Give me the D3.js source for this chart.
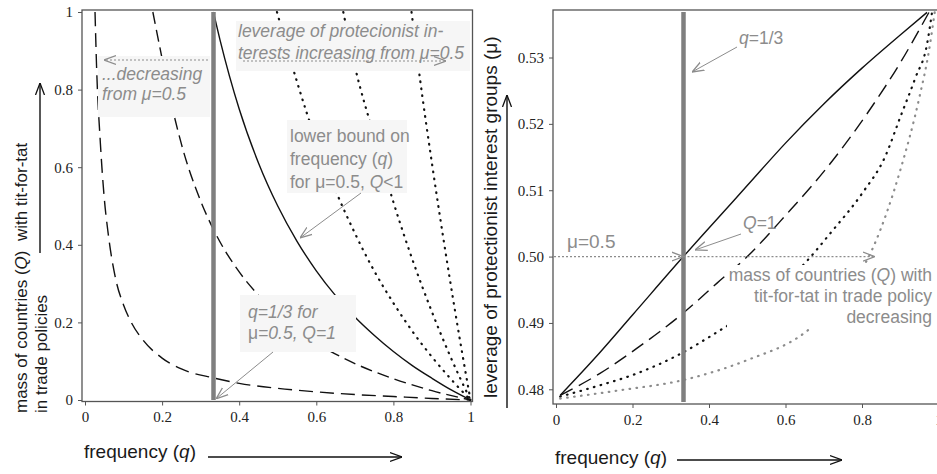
<!DOCTYPE html>
<html>
<head>
<meta charset="utf-8">
<script src="https://cdn.jsdelivr.net/npm/d3@7"></script>
<style>
  body { margin: 0; background: #fff; }
  svg { display: block; }
  .title { font-family: "Liberation Sans", Arial, sans-serif; font-size: 17px; fill: #1a1a1a; white-space: pre; }
  .note { font-family: "Liberation Sans", Arial, sans-serif; font-size: 17.5px; fill: #8c8c8c; }
  svg .tick text { font-family: "Liberation Serif", "DejaVu Serif", "Times New Roman", Times, serif !important; }
</style>
</head>
<body>
<svg></svg>
<script>
// ---- left panel: mass of countries (Q) against frequency (q) ----
const leftTicksX = [0, 0.2, 0.4, 0.6, 0.8, 1];
const leftTicksY = [0, 0.2, 0.4, 0.6, 0.8, 1];

// [q, Q]
const leftLongDash = [[0.026, 1.0], [0.03, 0.86], [0.04, 0.66], [0.05, 0.52], [0.06, 0.43], [0.08, 0.31],
  [0.1, 0.245], [0.12, 0.2], [0.15, 0.155], [0.2, 0.108], [0.25, 0.08], [0.333, 0.057], [0.4, 0.043],
  [0.5, 0.03], [0.6, 0.021], [0.7, 0.014], [0.8, 0.009], [0.9, 0.004], [1, 0]];
const leftDash = [[0.176, 1.0], [0.2, 0.88], [0.225, 0.76], [0.25, 0.66], [0.3, 0.513], [0.333, 0.44],
  [0.4, 0.33], [0.45, 0.27], [0.5, 0.22], [0.6, 0.147], [0.7, 0.094], [0.8, 0.055], [0.9, 0.024], [1, 0]];
const leftSolid = [[0.333, 1.0], [0.35, 0.929], [0.4, 0.75], [0.45, 0.611], [0.5, 0.5], [0.55, 0.409],
  [0.6, 0.333], [0.65, 0.269], [0.7, 0.214], [0.75, 0.167], [0.8, 0.125], [0.85, 0.088], [0.9, 0.056],
  [0.95, 0.026], [1, 0]];
const leftDot1 = [[0.498, 1.0], [0.55, 0.82], [0.6, 0.667], [0.65, 0.54], [0.7, 0.43], [0.75, 0.333],
  [0.8, 0.25], [0.85, 0.176], [0.9, 0.111], [0.95, 0.053], [1, 0]];
const leftDot2 = [[0.67, 1.0], [0.7, 0.86], [0.75, 0.68], [0.8, 0.51], [0.85, 0.36], [0.9, 0.227],
  [0.95, 0.107], [1, 0]];
const leftDot3 = [[0.847, 1.0], [0.87, 0.82], [0.9, 0.61], [0.93, 0.414], [0.96, 0.229], [0.98, 0.112], [1, 0]];

// ---- right panel: leverage (mu) against frequency (q) ----
const rightTicksX = [0, 0.2, 0.4, 0.6, 0.8, 1];
const rightTicksY = [0.48, 0.49, 0.5, 0.51, 0.52, 0.53];

// [q, mu]
const rightSolid = [[0.011, 0.4791], [0.1, 0.4846], [0.2, 0.4912], [0.333, 0.5], [0.4, 0.5043],
  [0.5, 0.5107], [0.6, 0.5171], [0.7, 0.523], [0.8, 0.5284], [0.9, 0.5334], [0.97, 0.5368]];
const rightDash = [[0.011, 0.4791], [0.115, 0.4824], [0.212, 0.4862], [0.333, 0.4915], [0.421, 0.496],
  [0.5, 0.5], [0.6, 0.5062], [0.7, 0.5128], [0.814, 0.5216], [0.9, 0.5292], [0.975, 0.5368]];
const rightDot = [[0.011, 0.4789], [0.097, 0.4803], [0.212, 0.4824], [0.317, 0.4851], [0.429, 0.4889],
  [0.55, 0.4935], [0.657, 0.4994], [0.717, 0.5035], [0.8, 0.5095], [0.86, 0.515], [0.9, 0.521],
  [0.94, 0.527], [0.97, 0.532], [0.983, 0.5368]];
const rightGreyDot = [[0.011, 0.4786], [0.16, 0.4798], [0.333, 0.4814], [0.5, 0.4844], [0.647, 0.4884],
  [0.75, 0.494], [0.83, 0.5015], [0.9, 0.513], [0.95, 0.524], [0.975, 0.531], [0.99, 0.5368]];

const width = 937;
const height = 474;
const grey = "#8c8c8c";
const dots = "0.6,6.4";
const serif = '"Liberation Serif", "DejaVu Serif", "Times New Roman", Times, serif';

const svg = d3.select("svg").attr("width", width).attr("height", height);

const xL = d3.scaleLinear().domain([0, 1]).range([85, 470.5]);
const yL = d3.scaleLinear().domain([0, 1]).range([400, 12]);
const xR = d3.scaleLinear().domain([0, 1]).range([556, 938.5]);
const yR = d3.scaleLinear().domain([0.48, 0.53]).range([389.3, 57.5]);

const defs = svg.append("defs");
const addMarker = (id, color) => {
  defs.append("marker")
    .attr("id", id)
    .attr("viewBox", "0 0 12 12")
    .attr("refX", 12)
    .attr("refY", 6)
    .attr("markerWidth", 12)
    .attr("markerHeight", 12)
    .attr("markerUnits", "userSpaceOnUse")
    .attr("orient", "auto")
    .append("path")
    .attr("d", "M0,1.5 L12,6 L0,10.5")
    .attr("fill", "none")
    .attr("stroke", color)
    .attr("stroke-width", 1.3);
};
addMarker("head-grey", grey);
addMarker("head-black", "#111");

const drawBox = (x0, x1, y0, y1) => {
  svg.append("rect")
    .attr("x", x0).attr("y", y0)
    .attr("width", x1 - x0).attr("height", y1 - y0)
    .attr("fill", "none").attr("stroke", "#555").attr("stroke-width", 1.3);
};

const styleAxis = (g) => {
  g.select(".domain").remove();
  g.attr("font-family", null).attr("font-size", null);
  g.selectAll(".tick line").attr("stroke", "#555");
  g.selectAll(".tick text")
    .attr("fill", "#222")
    .style("font-family", serif)
    .style("font-size", "15px");
};

const drawAxes = (xScale, yScale, ticksX, ticksY, yBase, xBase, fmt) => {
  svg.append("g")
    .attr("transform", `translate(0, ${yBase})`)
    .call(d3.axisBottom(xScale).tickValues(ticksX).tickSize(4).tickPadding(6).tickFormat((d) => String(d)))
    .call(styleAxis);
  svg.append("g")
    .attr("transform", `translate(${xBase}, 0)`)
    .call(d3.axisLeft(yScale).tickValues(ticksY).tickSize(4).tickPadding(5).tickFormat(fmt))
    .call(styleAxis);
};

const drawCurve = (data, xScale, yScale, dash, color, w) => {
  svg.append("path")
    .datum(data)
    .attr("fill", "none")
    .attr("stroke", color)
    .attr("stroke-width", w)
    .attr("stroke-dasharray", dash)
    .attr("stroke-linecap", dash === dots ? "round" : "butt")
    .attr("d", d3.line().x((d) => xScale(d[0])).y((d) => yScale(d[1])).curve(d3.curveMonotoneX));
};

const arrow = (x1, y1, x2, y2, color, dashed, w) => {
  svg.append("line")
    .attr("x1", x1).attr("y1", y1).attr("x2", x2).attr("y2", y2)
    .attr("stroke", color)
    .attr("stroke-width", w || 1.2)
    .attr("stroke-dasharray", dashed ? "2,2" : null)
    .attr("marker-end", color === grey ? "url(#head-grey)" : "url(#head-black)");
};

const noteBox = (x, y, w, h, fill) => {
  svg.append("rect").attr("x", x).attr("y", y).attr("width", w).attr("height", h).attr("fill", fill);
};

// lines: [text pieces], piece = [string, italic]
const note = (x, y, lines, lineH, opts) => {
  const t = svg.append("text")
    .attr("class", "note")
    .attr("x", x)
    .attr("y", y)
    .attr("text-anchor", opts && opts.anchor ? opts.anchor : "start")
    .style("font-style", opts && opts.italic ? "italic" : "normal");
  if (opts && opts.size) t.style("font-size", opts.size + "px");
  lines.forEach((pieces, i) => {
    pieces.forEach((p, j) => {
      const ts = t.append("tspan").text(p[0]);
      if (j === 0) ts.attr("x", x).attr("y", y + i * lineH);
      if (p[1] === true) ts.style("font-style", "italic");
      if (p[1] === false) ts.style("font-style", "normal");
    });
  });
};

// ================= left panel =================
drawBox(82, 472.5, 10, 401.5);
drawAxes(xL, yL, leftTicksX, leftTicksY, 401.5, 82, (d) => String(d));

drawCurve(leftLongDash, xL, yL, "14,7", "#111", 1.4);
drawCurve(leftDash, xL, yL, "12,6", "#111", 1.4);
drawCurve(leftSolid, xL, yL, null, "#111", 1.4);
drawCurve(leftDot1, xL, yL, dots, "#111", 2.2);
drawCurve(leftDot2, xL, yL, dots, "#111", 2.2);
drawCurve(leftDot3, xL, yL, dots, "#111", 2.2);

svg.append("line")
  .attr("x1", xL(1 / 3)).attr("x2", xL(1 / 3))
  .attr("y1", yL(1)).attr("y2", yL(0))
  .attr("stroke", "#7f7f7f").attr("stroke-width", 4.5);

noteBox(236, 21, 234, 50, "#f6f6f6");
note(238, 37, [[["leverage of protecionist in-"]], [["terests increasing from μ=0.5"]]], 22, { italic: true });
arrow(243, 61, 446, 61, grey, true, 1.2);

noteBox(98, 56, 112, 61, "#f6f6f6");
arrow(208, 60, 104, 60, grey, true, 1.2);
note(102, 80, [[["...decreasing"]], [["from μ=0.5"]]], 20, { italic: true });

noteBox(287, 120, 120, 73, "#f6f6f6");
note(290, 142, [[["lower bound on"]], [["frequency ("], ["q", true], [")"]], [["for μ=0.5, "], ["Q", true], ["<1"]]], 23);
arrow(361, 193, 300, 238, grey, false, 1);

noteBox(240, 295, 116, 57, "#f6f6f6");
note(248, 318, [[["q=1/3 for"]], [["μ", false], ["=0.5, Q=1"]]], 21, { italic: true });
arrow(273, 352, xL(0.34), yL(0.003), grey, false, 1);

// axis titles
const tl = svg.append("text").attr("class", "title").attr("x", 84).attr("y", 458).style("font-size", "19px");
tl.append("tspan").text("frequency (");
tl.append("tspan").text("q").style("font-style", "italic");
tl.append("tspan").text(")");
arrow(208, 457, 402, 457, "#111", false, 1.4);

const yl1 = svg.append("text").attr("class", "title").attr("transform", "translate(27, 413) rotate(-90)");
yl1.append("tspan").text("mass of countries (");
yl1.append("tspan").text("Q").style("font-style", "italic");
yl1.append("tspan").text(")  with tit-for-tat");
svg.append("text").attr("class", "title").attr("transform", "translate(47, 413) rotate(-90)").text("in trade policies");
arrow(40, 253, 40, 83, "#111", false, 1.4);

// ================= right panel =================
drawBox(553, 945, 10, 404);
drawAxes(xR, yR, rightTicksX, rightTicksY, 404, 553, d3.format(".2f"));

drawCurve(rightSolid, xR, yR, null, "#111", 1.4);
drawCurve(rightDash, xR, yR, "14,7", "#111", 1.4);
drawCurve(rightDot, xR, yR, dots, "#111", 2.2);
drawCurve(rightGreyDot, xR, yR, dots, grey, 2.2);

svg.append("line")
  .attr("x1", xR(1 / 3)).attr("x2", xR(1 / 3))
  .attr("y1", 12).attr("y2", 402)
  .attr("stroke", "#7f7f7f").attr("stroke-width", 4.5);

noteBox(727, 265, 208, 63, "#ffffff");
note(932, 281, [[["mass of countries ("], ["Q", true], [") with"]], [["tit-for-tat in trade policy"]], [["decreasing"]]], 21, { anchor: "end" });

arrow(554, yR(0.5), xR(1 / 3), yR(0.5), grey, true, 1.2);
arrow(xR(1 / 3), yR(0.5), 875, yR(0.5), grey, true, 1.2);
note(567, 248, [[["μ=0.5"]]], 0, { size: 19 });

note(739, 44, [[["q", true], ["=1/3"]]], 0);
arrow(737, 47, 692, 72, grey, false, 1);
note(743, 229, [[["Q", true], ["=1"]]], 0);
arrow(741, 234, 695, 250, grey, false, 1);

const tr = svg.append("text").attr("class", "title").attr("x", 555).attr("y", 464).style("font-size", "19px");
tr.append("tspan").text("frequency (");
tr.append("tspan").text("q").style("font-style", "italic");
tr.append("tspan").text(")");
arrow(677, 460, 842, 460, "#111", false, 1.4);

svg.append("text").attr("class", "title").attr("transform", "translate(497, 398) rotate(-90)")
  .style("font-size", "19px")
  .text("leverage of protectionist interest groups (μ)");
arrow(507, 408, 507, 95, "#111", false, 1.4);
</script>
</body>
</html>
